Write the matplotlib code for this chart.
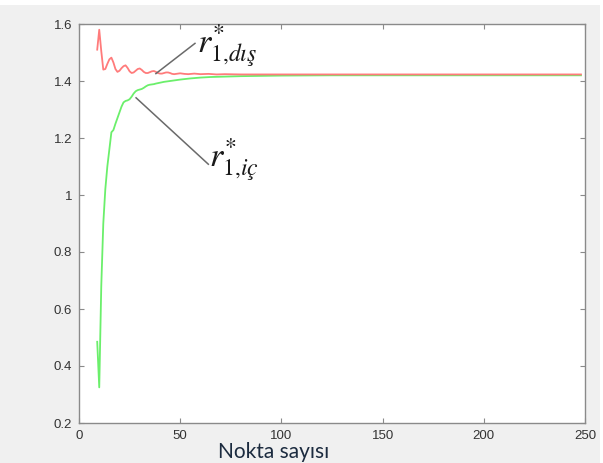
import matplotlib
matplotlib.use("Agg")
import matplotlib.pyplot as plt
from matplotlib.patches import Rectangle

# Outer bound radius estimate vs. number of points
n_dis = [9, 10, 11, 12, 13, 14, 15, 16, 17, 18, 19, 20, 21, 22, 23, 24, 25,
         26, 27, 28, 29, 30, 31, 32, 33, 34, 35, 36, 37, 38, 39, 40, 41, 42,
         43, 44, 45, 46, 47, 48, 50, 52, 54, 57, 60, 64, 68, 72, 80, 90, 100,
         125, 150, 175, 200, 225, 248]
r_dis = [1.510, 1.580, 1.505, 1.440, 1.442, 1.460, 1.476, 1.482, 1.465,
         1.442, 1.432, 1.436, 1.445, 1.452, 1.455, 1.446, 1.434, 1.428,
         1.430, 1.436, 1.442, 1.444, 1.439, 1.432, 1.428, 1.428, 1.431,
         1.434, 1.435, 1.432, 1.428, 1.426, 1.426, 1.428, 1.430, 1.430,
         1.428, 1.425, 1.424, 1.425, 1.427, 1.425, 1.424, 1.426, 1.424,
         1.425, 1.423, 1.424, 1.423, 1.423, 1.423, 1.423, 1.423, 1.423,
         1.423, 1.423, 1.423]

# Inner bound radius estimate vs. number of points
n_ic = [9, 10, 11, 12, 13, 14, 15, 16, 17, 18, 19, 20, 21, 22, 23, 24, 25,
        26, 27, 28, 29, 30, 31, 32, 33, 34, 35, 36, 37, 38, 40, 42, 45, 48,
        50, 55, 60, 65, 70, 80, 90, 100, 125, 150, 175, 200, 225, 248]
r_ic = [0.485, 0.325, 0.680, 0.900, 1.020, 1.100, 1.160, 1.220, 1.228,
        1.250, 1.270, 1.290, 1.310, 1.325, 1.330, 1.332, 1.336, 1.345,
        1.356, 1.364, 1.368, 1.370, 1.372, 1.376, 1.381, 1.385, 1.387,
        1.388, 1.389, 1.391, 1.394, 1.397, 1.400, 1.403, 1.405, 1.409,
        1.412, 1.414, 1.415, 1.417, 1.418, 1.419, 1.420, 1.420, 1.420,
        1.420, 1.420, 1.420]

x_ticks = [0, 50, 100, 150, 200, 250]
y_ticks = [0.2, 0.4, 0.6, 0.8, 1.0, 1.2, 1.4, 1.6]
y_tick_labels = ["0.2", "0.4", "0.6", "0.8", "1", "1.2", "1.4", "1.6"]

plt.rcParams["mathtext.fontset"] = "stix"

W, H = 603, 463
fig = plt.figure(figsize=(W / 100, H / 100), dpi=100, facecolor="white")
fig.patches.append(Rectangle((0, 0), 600 / W, 458 / H, transform=fig.transFigure,
                             facecolor="#f0f0f0", edgecolor="none", zorder=-10))

ax = fig.add_axes([79 / W, (H - 423) / H, (585 - 79) / W, (423 - 24) / H])
ax.set_facecolor("white")

ax.plot(n_ic, r_ic, color="#6bef6b", lw=1.3, zorder=3)
ax.plot(n_dis, r_dis, color="#ff7b7b", lw=1.3, zorder=4)

ax.set_xlim(0, 250)
ax.set_ylim(0.2, 1.6)
ax.set_xticks(x_ticks)
ax.set_yticks(y_ticks)
ax.set_yticklabels(y_tick_labels)

for s in ax.spines.values():
    s.set_color("#8a8a8a")
    s.set_linewidth(1.0)
ax.tick_params(direction="in", length=3.5, width=0.8, color="#8a8a8a",
               top=True, right=True, labelsize=9.5, labelcolor="#333333",
               pad=5)
for lab in ax.get_xticklabels() + ax.get_yticklabels():
    lab.set_family("Liberation Sans")

# Leader lines and curve labels
ax.plot([38.0, 57.3], [1.426, 1.532], color="#6a6a6a", lw=1.1, zorder=5)
ax.plot([28.2, 63.9], [1.341, 1.108], color="#6a6a6a", lw=1.1, zorder=5)
ax.text(58.3, 1.500, r"$r^{*}_{1{,}dış}$", fontsize=24.5, color="#1a1a1a",
        ha="left", va="baseline", zorder=6)
ax.text(64.2, 1.097, r"$r^{*}_{1{,}iç}$", fontsize=24.5, color="#1a1a1a",
        ha="left", va="baseline", zorder=6)

fig.text(274 / W, 1 - 458 / H, "Nokta sayısı", family="Lato", fontsize=15,
         color="#1c2b3f", ha="center", va="baseline")

fig.savefig("out.png", dpi=100, facecolor=fig.get_facecolor())
